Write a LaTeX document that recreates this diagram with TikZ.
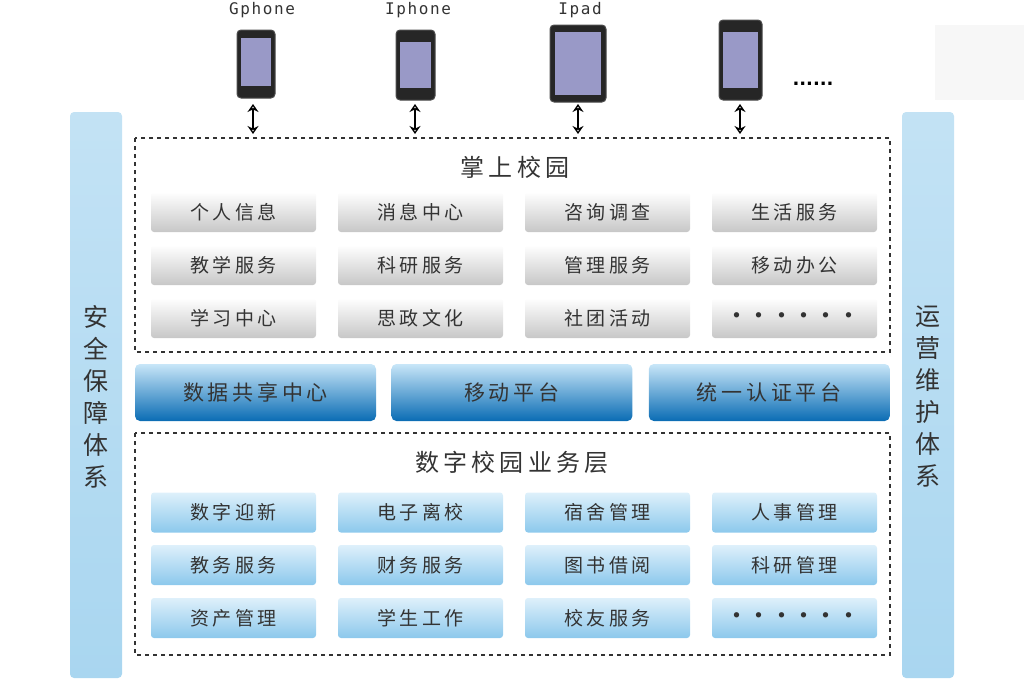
\documentclass[tikz,border=0pt]{standalone}
\usepackage{fontspec}
\setmainfont{DejaVu Sans}
\newfontfamily\cjk[LetterSpace=18]{Noto Sans CJK SC}
\newfontfamily\devfont[LetterSpace=10]{DejaVu Sans Mono}
\usetikzlibrary{positioning,arrows.meta}
\definecolor{barblue}{HTML}{A9D6F0}
\definecolor{darkblue}{HTML}{0A6CB4}
\definecolor{lightblue}{HTML}{C8E6F8}
\definecolor{midblue}{HTML}{8CC8EC}
\definecolor{txt}{HTML}{333333}
\begin{document}
\begin{tikzpicture}[x=1pt,y=-1pt,
every node/.style = {text=txt, font=\cjk\fontsize{19}{21}\selectfont},
greybox/.style = {rounded corners=3pt, minimum width=165pt, minimum height=40pt,
  top color=white, bottom color=black!22, draw=none},
bluebox/.style = {rounded corners=3pt, minimum width=165pt, minimum height=40pt,
  top color=lightblue!60, bottom color=midblue, draw=none},
platbox/.style = {rounded corners=5pt, minimum width=241pt, minimum height=57pt,
  top color=lightblue, bottom color=darkblue, draw=none,
  font=\cjk\fontsize{21}{23}\selectfont},
sidebar/.style = {rounded corners=4pt, minimum width=52pt, minimum height=566pt,
  top color=barblue!70, bottom color=barblue, draw=none},
sidetext/.style = {align=center, fill=none,
  font=\cjk\fontsize{25}{32}\selectfont},
layer/.style = {draw=black!80, dashed, line width=1.2pt, dash pattern=on 4pt off 4pt},
title/.style = {font=\cjk\fontsize{24}{26}\selectfont},
devlabel/.style = {font=\devfont\fontsize{16}{18}\selectfont, text=black!80},
phone/.style = {draw=black!70, fill=black!85, rounded corners=4pt, line width=1pt},
screen/.style = {fill=black!55!blue!40, draw=none},
link/.style = {{Stealth[length=8pt,width=11pt,open]}-{Stealth[length=8pt,width=11pt,open]},
  line width=1.5pt, draw=black},
dots/.style = {font=\bfseries\fontsize{18}{20}\selectfont, text=black}
]
\useasboundingbox (0,0) rectangle (1024,680);
\fill[black!3] (935,25) rectangle (1024,100);

% side bars
\node[sidebar] (safe) at (96,395) {};
\node[sidetext] (safet) at (96,397) {安\\全\\保\\障\\体\\系};
\node[sidebar] (ops) at (928,395) {};
\node[sidetext] (opst) at (928,397) {运\\营\\维\\护\\体\\系};

% layers
\draw[layer] (135,138) rectangle (890,352);
\node[title] (top) at (515,167) {掌上校园};
\draw[layer] (135,433) rectangle (890,655);
\node[title] (biz) at (512,462) {数字校园业务层};

% campus apps
\foreach \r/\y/\list in {1/212/{个人信息,消息中心,咨询调查,生活服务},
                        2/265/{教学服务,科研服务,管理服务,移动办公},
                        3/318/{学习中心,思政文化,社团活动,\textbf{······}}}
  \foreach \t [count=\c] in \list
    \node[greybox] (g\r\c) at ({233.5+187*(\c-1)},\y) {\t};

% platforms
\node[platbox] (share) at (255.5,392.5) {数据共享中心};
\node[platbox, right=15pt of share] (mobile) {移动平台};
\node[platbox, right=16pt of mobile] (auth) {统一认证平台};

% business
\foreach \r/\y/\list in {1/512.5/{数字迎新,电子离校,宿舍管理,人事管理},
                        2/565/{教务服务,财务服务,图书借阅,科研管理},
                        3/618/{资产管理,学生工作,校友服务,\textbf{······}}}
  \foreach \t [count=\c] in \list
    \node[bluebox] (b\r\c) at ({233.5+187*(\c-1)},\y) {\t};

% devices
\node[devlabel] (lg) at (262,10) {Gphone};
\node[devlabel] (li) at (418,10) {Iphone};
\node[devlabel] (lp) at (580,10) {Ipad};
\draw[phone] (237,30) rectangle (275,98);
\fill[screen] (241,38) rectangle (271,86);
\draw[phone] (396,30) rectangle (435,100);
\fill[screen] (400,42) rectangle (431,88);
\draw[phone] (550,25) rectangle (606,102);
\fill[screen] (555,32) rectangle (601,95);
\draw[phone] (719,20) rectangle (762,100);
\fill[screen] (723,32) rectangle (758,88);
\node[dots] (more) at (813,84) {......};

\coordinate (d1) at (253,104); \coordinate (d2) at (415,104);
\coordinate (d3) at (578,104); \coordinate (d4) at (740,104);
\foreach \i in {1,...,4}
  \draw[link] (d\i) -- ++(0,30);
\end{tikzpicture}
\end{document}
